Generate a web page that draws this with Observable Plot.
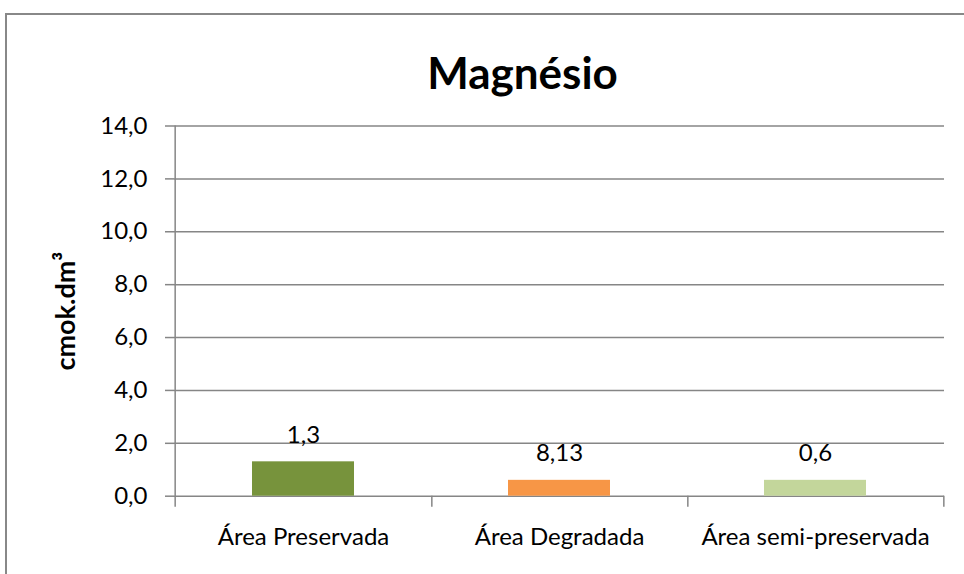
<!DOCTYPE html>
<html><head><meta charset="utf-8">
<script src="https://cdn.jsdelivr.net/npm/d3@7"></script>
<script src="https://cdn.jsdelivr.net/npm/@observablehq/plot@0.6"></script>
<style>
body{margin:0;background:#fff;}
#wrap{position:relative;width:964px;height:574px;overflow:hidden;font-family:Lato,sans-serif;}
#border{position:absolute;left:5px;top:13px;width:1100px;height:700px;border:2px solid #888;box-sizing:border-box;}
#title{position:absolute;left:0;width:1045px;top:50px;text-align:center;font-weight:bold;font-size:44px;line-height:1;color:#000;}
#chart{position:absolute;left:0;top:0;}
</style></head>
<body><div id="wrap"><div id="border"></div><div id="title"></div><div id="chart"></div></div>
<script>
const title = "Magnésio";
const categories = ["Área Preservada", "Área Degradada", "Área semi-preservada"];
const values = [1.3, 0.6, 0.6];
const valueLabels = ["1,3", "8,13", "0,6"];
const colors = ["#77933C", "#F79646", "#C3D69B"];
const yTicks = [0, 2, 4, 6, 8, 10, 12, 14];
const yTitle = "cmok.dm³";

document.getElementById("title").textContent = title;
const data = categories.map((c, i) => ({category: c, value: values[i], label: valueLabels[i], color: colors[i]}));
const W = 964, H = 574, mL = 174, mR = 20, mT = 125.5, mB = 78.3;
const step = (W - mL - mR) / categories.length;
const fmt = d => d.toFixed(1).replace(".", ",");
const grey = "#868686";

const chart = Plot.plot({
  width: W, height: H, marginLeft: mL, marginRight: mR, marginTop: mT, marginBottom: mB,
  style: {fontFamily: "Lato, sans-serif", fontSize: "24px", color: "#000", background: "transparent", overflow: "visible"},
  x: {type: "band", domain: categories, paddingInner: 0.6, paddingOuter: 0.3, align: 0.5, axis: null},
  y: {domain: [0, 14], axis: null},
  color: {type: "identity"},
  marks: [
    Plot.ruleY(yTicks, {stroke: grey, strokeWidth: 1.5}),
    Plot.barY(data, {x: "category", y: "value", fill: "color"}),
    Plot.ruleX([categories[0]], {x: d => d, dx: -step / 2, stroke: grey, strokeWidth: 1.5, insetBottom: -11}),
    Plot.ruleX(categories, {x: d => d, dx: step / 2, y1: () => 0, y2: () => 0, stroke: grey, strokeWidth: 1.5, insetBottom: -11}),
    Plot.axisY(yTicks, {tickSize: 9, tickPadding: 18, tickFormat: fmt, stroke: grey, strokeWidth: 1.5, fontSize: 24, label: null}),
    Plot.axisX({tickSize: 0, tickPadding: 32, fontSize: 24, label: null}),
    Plot.text(data, {x: "category", y: "value", text: "label", dy: -27, fontSize: 24}),
    Plot.text([yTitle], {text: d => d, frameAnchor: "left", textAnchor: "middle", rotate: -90, dx: -108, fontWeight: "bold", fontSize: 27})
  ]
});
document.getElementById("chart").appendChild(chart);
</script>
</body></html>
